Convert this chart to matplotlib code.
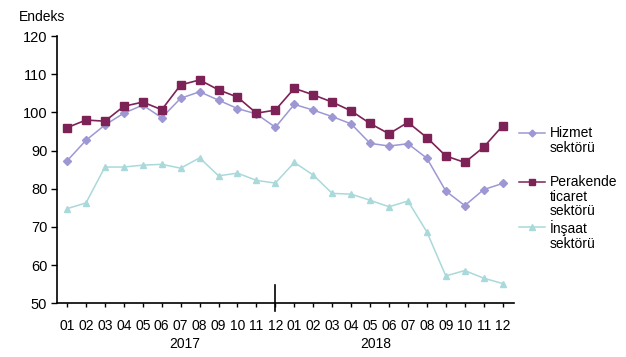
import matplotlib
matplotlib.use("Agg")
import matplotlib.pyplot as plt
from matplotlib.lines import Line2D

plt.rcParams['font.family'] = ['Liberation Sans', 'DejaVu Sans']

months = ['01', '02', '03', '04', '05', '06', '07', '08', '09', '10', '11', '12'] * 2
years = ['2017', '2018']

hizmet = [87.3, 92.7, 96.7, 99.8, 101.9, 98.6, 103.7, 105.4, 103.2, 101.0, 99.6, 96.1,
          102.1, 100.6, 98.9, 97.0, 91.9, 91.2, 91.8, 88.0, 79.4, 75.6, 79.8, 81.4]
perakende = [96.0, 98.0, 97.7, 101.6, 102.7, 100.7, 107.2, 108.5, 105.9, 104.0, 99.8, 100.6,
             106.3, 104.6, 102.7, 100.4, 97.1, 94.4, 97.4, 93.4, 88.6, 86.9, 90.9, 96.5]
insaat = [74.8, 76.3, 85.7, 85.7, 86.2, 86.4, 85.4, 88.1, 83.4, 84.1, 82.2, 81.5,
          86.9, 83.6, 78.8, 78.6, 77.0, 75.3, 76.8, 68.7, 57.2, 58.6, 56.6, 55.2]

c_hiz = '#9d98d4'
c_per = '#7d2257'
c_ins = '#a9d9da'

fig = plt.figure(figsize=(6.26, 3.57), dpi=100)
ax = fig.add_axes([57 / 626, 1 - 303.4 / 357, (514 - 57) / 626, (303.4 - 36) / 357])

x = list(range(len(months)))
ax.plot(x, insaat, color=c_ins, lw=1.1, marker='^', ms=5, mec=c_ins, mfc=c_ins)
ax.plot(x, hizmet, color=c_hiz, lw=1.1, marker='D', ms=4, mec=c_hiz, mfc=c_hiz)
ax.plot(x, perakende, color=c_per, lw=1.2, marker='s', ms=6, mec=c_per, mfc=c_per)

ax.set_xlim(-0.53, 23.6)
ax.set_ylim(50, 120)
ax.set_yticks(range(50, 121, 10))
ax.set_xticks(x)
ax.set_xticklabels(months)
ax.tick_params(axis='x', direction='out', length=3, width=1, pad=8, labelsize=10)
ax.tick_params(axis='y', direction='out', length=4, width=1, pad=3, labelsize=10.5)
for s in ['top', 'right']:
    ax.spines[s].set_visible(False)
for s in ['left', 'bottom']:
    ax.spines[s].set_linewidth(1.2)

# year divider
ax.plot([11, 11], [54.7, 48.1], color='black', lw=1.2, clip_on=False)

ax.text(6.2, -0.125, years[0], transform=ax.get_xaxis_transform(), ha='center', va='top', fontsize=10)
ax.text(16.3, -0.125, years[1], transform=ax.get_xaxis_transform(), ha='center', va='top', fontsize=10)

fig.text(42 / 626, 1 - 17 / 357, 'Endeks', ha='center', va='center', fontsize=10)

# legend drawn by hand
leg = [(133, c_hiz, 'D', 3.5, 'Hizmet\nsektörü'),
       (182, c_per, 's', 5, 'Perakende\nticaret\nsektörü'),
       (227, c_ins, '^', 4.5, 'İnşaat\nsektörü')]
for py, col, mk, ms, lab in leg:
    yf = 1 - py / 357
    fig.add_artist(Line2D([519 / 626, 545 / 626], [yf, yf], color=col, lw=1.1,
                          transform=fig.transFigure))
    fig.add_artist(Line2D([532 / 626], [yf], color=col, marker=mk, ms=ms, mec=col,
                          mfc=col, transform=fig.transFigure))
    fig.text(550 / 626, yf + 7 / 357, lab, ha='left', va='top', fontsize=10,
             linespacing=1.05)

fig.savefig('out.png', dpi=100)
